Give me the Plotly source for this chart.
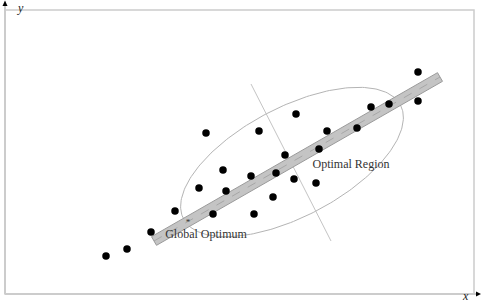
import numpy as np
import plotly.graph_objects as go

# ---- data (coordinates in the chart's own x / y units, y grows downward) ----
pts_x = [106, 127, 151, 175, 206, 199, 213, 223, 226, 251, 254, 259, 273, 276, 285,
         294, 296, 316, 319, 327, 357, 371, 389, 418, 418]
pts_y = [256, 249, 232, 211, 133, 188, 214, 170, 191, 176, 214, 131, 197, 173, 155,
         179, 114, 183, 149, 131, 128, 107, 104, 72, 101]

# optimal band (centre line end points)
band_x = [154, 440]
band_y = [241, 77]
band_half_width = 5.0

# optimal region ellipse: centre, semi-axes, tilt of major axis (deg)
ellipse_center = [292, 162]
ellipse_axes = [122.5, 54.6]
ellipse_angle = -27.7

# cross line through the region
cross_x = [251, 331]
cross_y = [84, 241]

# global optimum marker
opt_x = [188]
opt_y = [223]

labels = ["Optimal Region", "Global Optimum"]
label_x = [351, 206]
label_y = [165, 235]

fig = go.Figure()

# band polygon
p1 = np.array([band_x[0], band_y[0]], float)
p2 = np.array([band_x[1], band_y[1]], float)
u = (p2 - p1) / np.linalg.norm(p2 - p1)
n = np.array([-u[1], u[0]]) * band_half_width
poly = np.array([p1 + n, p2 + n, p2 - n, p1 - n, p1 + n])

# ellipse
t = np.linspace(0, 2 * np.pi, 240)
th = np.radians(ellipse_angle)
ex = ellipse_center[0] + ellipse_axes[0] * np.cos(t) * np.cos(th) - ellipse_axes[1] * np.sin(t) * np.sin(th)
ey = ellipse_center[1] + ellipse_axes[0] * np.cos(t) * np.sin(th) + ellipse_axes[1] * np.sin(t) * np.cos(th)
fig.add_trace(go.Scatter(x=ex, y=ey, mode="lines", line=dict(color="#b4b4b4", width=1), hoverinfo="skip"))

fig.add_trace(go.Scatter(x=cross_x, y=cross_y, mode="lines", line=dict(color="#c4c4c4", width=1), hoverinfo="skip"))

fig.add_trace(go.Scatter(x=poly[:, 0], y=poly[:, 1], mode="lines", fill="toself",
                         fillcolor="#c4c4c4", line=dict(color="#9a9a9a", width=1), hoverinfo="skip"))
fig.add_trace(go.Scatter(x=band_x, y=band_y, mode="lines",
                         line=dict(color="#9a9a9a", width=0.7, dash="dash"), hoverinfo="skip"))

fig.add_trace(go.Scatter(x=pts_x, y=pts_y, mode="markers",
                         marker=dict(color="black", size=7.5), hoverinfo="skip"))
fig.add_trace(go.Scatter(x=opt_x, y=opt_y, mode="text", text=["*"],
                         textfont=dict(family="Liberation Serif", size=9, color="#333"),
                         hoverinfo="skip"))

fig.add_trace(go.Scatter(x=label_x, y=label_y, mode="text", text=labels,
                         textfont=dict(family="Liberation Serif", size=12, color="#333333"),
                         hoverinfo="skip"))

# frame and axes
frame_col = "#cccccc"
fig.add_shape(type="rect", x0=5, y0=10, x1=474, y1=294, line=dict(color=frame_col, width=1.5))
fig.add_shape(type="line", x0=5, y0=3, x1=5, y1=294, line=dict(color=frame_col, width=2))
fig.add_shape(type="line", x0=5, y0=294, x1=478, y1=294, line=dict(color=frame_col, width=2))
fig.add_shape(type="path", path="M 2.5 6 L 7.5 6 L 5 0.5 Z", fillcolor="black", line=dict(width=0))
fig.add_shape(type="path", path="M 476 291.5 L 476 296.5 L 481 294 Z", fillcolor="black", line=dict(width=0))

fig.add_annotation(x=20, y=7.5, text="<i>y</i>", showarrow=False,
                   font=dict(family="Liberation Serif", size=12, color="#222"))
fig.add_annotation(x=465, y=296, text="<i>x</i>", showarrow=False,
                   font=dict(family="Liberation Serif", size=12, color="#222"))

fig.update_layout(width=481, height=303, margin=dict(l=0, r=0, t=0, b=0), showlegend=False,
                  plot_bgcolor="white", paper_bgcolor="white",
                  xaxis=dict(range=[0, 481], visible=False, fixedrange=True),
                  yaxis=dict(range=[303, 0], visible=False, fixedrange=True))
fig.write_html("out.html")
